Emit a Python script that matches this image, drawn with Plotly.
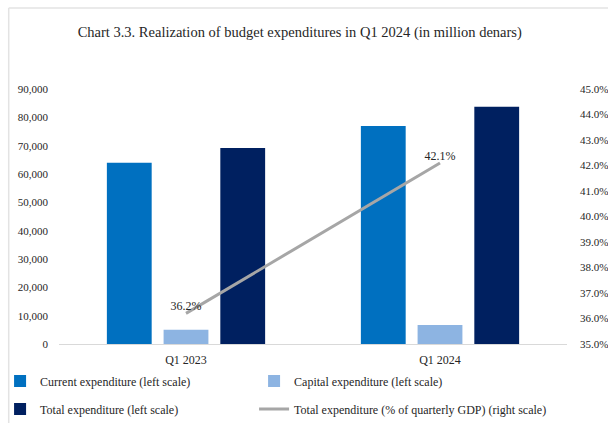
import plotly.graph_objects as go

# Quarter categories and values (million denars / % of quarterly GDP)
quarters = ["Q1 2023", "Q1 2024"]
current_exp = [64000, 76900]
capital_exp = [5000, 6700]
total_exp = [69200, 83700]
total_pct_gdp = [36.2, 42.1]
pct_labels = ["36.2%", "42.1%"]

left_ticks = list(range(0, 90001, 10000))
right_ticks = [35 + i for i in range(11)]
right_labels = [f"{v:.1f}%" for v in right_ticks]

FONT = "Liberation Serif"
TXT = "#262626"

fig = go.Figure()
fig.add_trace(go.Bar(
    x=quarters, y=current_exp, name="Current expenditure (left scale)",
    marker=dict(color="#0070C0", line=dict(width=0)), legend="legend",
))
fig.add_trace(go.Bar(
    x=quarters, y=capital_exp, name="Capital expenditure (left scale)",
    marker=dict(color="#8DB4E2", line=dict(width=0)), legend="legend2",
))
fig.add_trace(go.Bar(
    x=quarters, y=total_exp, name="Total expenditure (left scale)",
    marker=dict(color="#002060", line=dict(width=0)), legend="legend3",
))
fig.add_trace(go.Scatter(
    x=quarters, y=total_pct_gdp, yaxis="y2", mode="lines+text",
    name="Total expenditure (% of quarterly GDP) (right scale)",
    line=dict(color="#A6A6A6", width=3),
    text=pct_labels, textposition="top center",
    textfont=dict(family=FONT, size=12, color=TXT),
    legend="legend4",
))


def legend_box(x, y):
    return dict(
        xref="paper", x=x, xanchor="left", yanchor="middle", y=y,
        font=dict(family=FONT, size=12, color=TXT),
        bgcolor="rgba(0,0,0,0)", itemclick=False, itemdoubleclick=False,
    )


fig.update_layout(
    width=608, height=423,
    margin=dict(l=59, r=41, t=89, b=79, autoexpand=False),
    paper_bgcolor="white", plot_bgcolor="white",
    barmode="group", bargap=0.33, bargroupgap=0.21,
    title=dict(
        text="Chart 3.3. Realization of budget expenditures in Q1 2024 (in million denars)",
        font=dict(family=FONT, size=14.5, color=TXT),
        x=0.493, xanchor="center", xref="container",
        y=0.924, yanchor="middle", yref="container",
    ),
    xaxis=dict(
        showgrid=False, showline=True, linecolor="#D9D9D9", linewidth=1,
        ticks="", ticklabelstandoff=5,
        tickfont=dict(family=FONT, size=12, color=TXT),
    ),
    yaxis=dict(
        range=[0, 90000], tickvals=left_ticks, tickformat=",",
        showgrid=False, zeroline=False, showline=False, ticks="",
        ticklabelstandoff=10,
        tickfont=dict(family=FONT, size=11, color=TXT),
    ),
    yaxis2=dict(
        overlaying="y", side="right", range=[35, 45],
        tickvals=right_ticks, ticktext=right_labels,
        showgrid=False, zeroline=False, showline=False, ticks="",
        ticklabelstandoff=12,
        tickfont=dict(family=FONT, size=11, color=TXT),
    ),
    legend=legend_box(-0.116, -0.145),
    legend2=legend_box(0.384, -0.145),
    legend3=legend_box(-0.116, -0.255),
    legend4=legend_box(0.384, -0.255),
    showlegend=True,
    shapes=[
        dict(type="line", xref="paper", yref="paper", x0=-0.099, x1=1.09,
             y0=1.318, y1=1.318, line=dict(color="#E3E3E3", width=1.5)),
        dict(type="line", xref="paper", yref="paper", x0=-0.099, x1=-0.099,
             y0=1.318, y1=-0.32, line=dict(color="#E3E3E3", width=1.5)),
    ],
)

fig.write_html("out.html")
